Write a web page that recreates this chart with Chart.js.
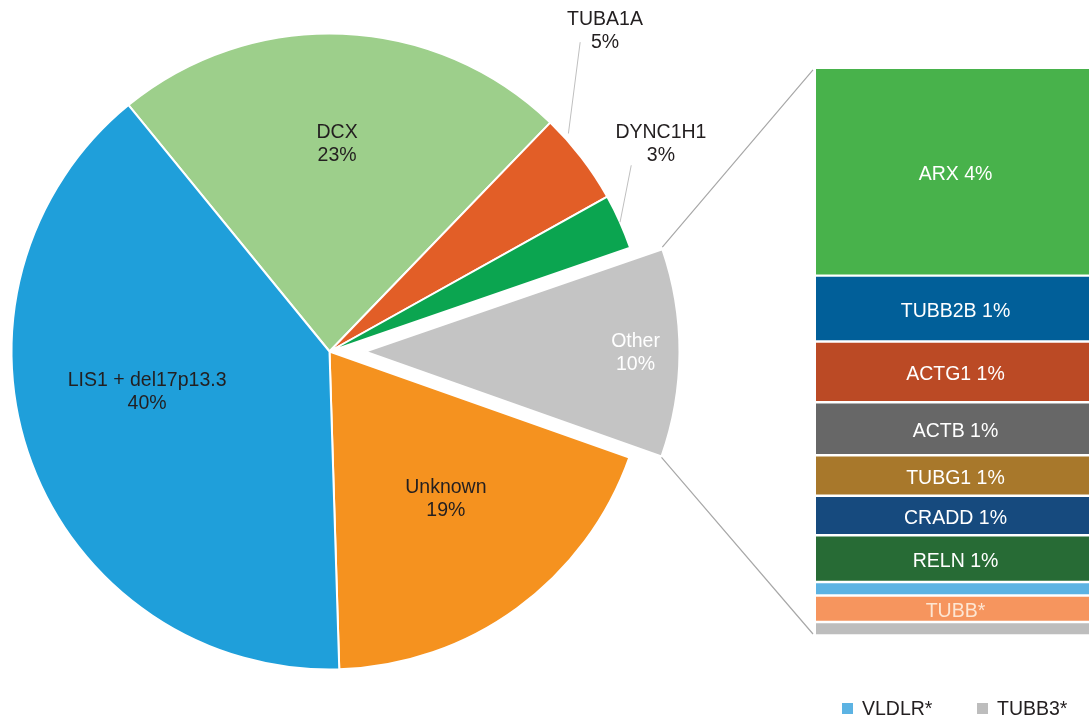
<!DOCTYPE html>
<html>
<head>
<meta charset="utf-8">
<script src="https://cdn.jsdelivr.net/npm/chart.js@4.4.1/dist/chart.umd.min.js"></script>
<style>
html,body{margin:0;padding:0;background:#ffffff;}
#wrap{position:relative;width:1089px;height:720px;overflow:hidden;background:#ffffff;}
#wrap canvas{position:absolute;left:0;top:0;}
</style>
</head>
<body>
<div id="wrap">
  <canvas id="pie" width="1089" height="720"></canvas>
  <canvas id="bar" width="1089" height="720"></canvas>
</div>
<script>
// ---------- data ----------
const pieCategories = ['DCX', 'TUBA1A', 'DYNC1H1', 'Other', 'Unknown', 'LIS1 + del17p13.3'];
const pieValues = [23.1, 4.7, 2.8, 10.7, 19.1, 39.6];
const pieLabelText = ['23%', '5%', '3%', '10%', '19%', '40%'];

const barCategories = ['ARX', 'TUBB2B', 'ACTG1', 'ACTB', 'TUBG1', 'CRADD', 'RELN', 'VLDLR*', 'TUBB*', 'TUBB3*'];
const barValues = [4, 1.27, 1.17, 1.02, 0.78, 0.76, 0.90, 0.26, 0.51, 0.26];
const barLabelText = ['ARX 4%', 'TUBB2B 1%', 'ACTG1 1%', 'ACTB 1%', 'TUBG1 1%', 'CRADD 1%', 'RELN 1%', '', 'TUBB*', ''];

const legendCategories = ['VLDLR*', 'TUBB3*'];

// ---------- styles ----------
const pieColors = ['#9dcf8b', '#e25e27', '#0ba550', '#c4c4c4', '#f5921f', '#1f9fda'];
const barColors = ['#48b24b', '#015f99', '#bb4a25', '#676767', '#a8782b', '#164a7e', '#276b35', '#5cb3e3', '#f6955e', '#bdbdbd'];
const barTextColors = ['#fff', '#fff', '#fff', '#fff', '#fff', '#fff', '#fff', '#fff', '#fde6d3', '#fff'];
const FONT = '19.5px "Liberation Sans", Arial, Helvetica, sans-serif';
const TEXT_DARK = '#231f20';
const explodeIndex = 3;
const explodeDist = 36;
// label placement relative to each slice: radius fraction, angle nudge (deg)
const pieLabelStyle = [
  {inside: true, r: 0.654, d: -0.3, color: TEXT_DARK},
  {inside: false, text: [1.328, -11.7], line: [[1.017, -4.8], [1.252, -13.4]], color: TEXT_DARK},
  {inside: false, text: [1.230, -8.0], line: [[1.0, 0.1], [1.115, -7.6]], color: TEXT_DARK},
  {inside: true, r: 0.86, d: 0, color: '#ffffff'},
  {inside: true, r: 0.59, d: -2.2, color: TEXT_DARK},
  {inside: true, r: 0.588, d: 7.8, color: TEXT_DARK}
];

// ---------- pie ----------
const explodePlugin = {
  id: 'explode',
  afterDatasetsUpdate(chart) {
    const arc = chart.getDatasetMeta(0).data[explodeIndex];
    const mid = (arc.startAngle + arc.endAngle) / 2;
    arc.x += Math.cos(mid) * explodeDist;
    arc.y += Math.sin(mid) * explodeDist;
    arc.outerRadius -= 4;
  }
};

const pieLabelPlugin = {
  id: 'pieLabels',
  afterDatasetsDraw(chart) {
    const ctx = chart.ctx;
    const meta = chart.getDatasetMeta(0);
    meta.data.forEach((arc, i) => {
      const st = pieLabelStyle[i];
      const {x, y, startAngle, endAngle, outerRadius} = arc;
      const mid = (startAngle + endAngle) / 2;
      const pt = (rf, d) => {
        const a = mid + d * Math.PI / 180;
        return [x + outerRadius * rf * Math.cos(a), y + outerRadius * rf * Math.sin(a)];
      };
      ctx.save();
      ctx.font = FONT;
      ctx.textAlign = 'center';
      ctx.textBaseline = 'middle';
      ctx.fillStyle = st.color;
      let c;
      if (st.inside) {
        c = pt(st.r, st.d);
      } else {
        c = pt(st.text[0], st.text[1]);
        const p1 = pt(st.line[0][0], st.line[0][1]);
        const p2 = pt(st.line[1][0], st.line[1][1]);
        ctx.strokeStyle = '#bfbfbf';
        ctx.lineWidth = 1;
        ctx.beginPath();
        ctx.moveTo(p1[0], p1[1]);
        ctx.lineTo(p2[0], p2[1]);
        ctx.stroke();
      }
      ctx.fillText(pieCategories[i], c[0], c[1] - 11.5);
      ctx.fillText(pieLabelText[i], c[0], c[1] + 11.5);
      ctx.restore();
    });
  }
};

const pieChart = new Chart(document.getElementById('pie'), {
  type: 'pie',
  data: {
    labels: pieCategories,
    datasets: [{
      data: pieValues,
      backgroundColor: pieColors,
      borderColor: '#ffffff',
      borderWidth: 2
    }]
  },
  options: {
    responsive: false,
    animation: false,
    events: [],
    rotation: -39.2,
    radius: 318,
    layout: {padding: {left: 0, top: 0, right: 430, bottom: 17}},
    plugins: {legend: {display: false}, tooltip: {enabled: false}}
  },
  plugins: [explodePlugin, pieLabelPlugin]
});

// ---------- stacked bar ----------
const barTotal = barValues.reduce((a, b) => a + b, 0);

const barExtrasPlugin = {
  id: 'barExtras',
  afterDatasetsDraw(chart) {
    const ctx = chart.ctx;
    ctx.save();
    ctx.font = FONT;
    ctx.textAlign = 'center';
    ctx.textBaseline = 'middle';
    barCategories.forEach((c, i) => {
      const bar = chart.getDatasetMeta(i).data[0];
      const {x, y, base} = bar.getProps(['x', 'y', 'base'], true);
      if (!barLabelText[i]) return;
      ctx.fillStyle = barTextColors[i];
      ctx.fillText(barLabelText[i], x + 3, (y + base) / 2 + 3);
    });
    ctx.restore();

    // connector lines from exploded slice to the bar
    const arc = pieChart.getDatasetMeta(0).data[explodeIndex];
    const first = chart.getDatasetMeta(0).data[0].getProps(['x', 'y', 'base', 'width'], true);
    const last = chart.getDatasetMeta(barCategories.length - 1).data[0].getProps(['x', 'y', 'base', 'width'], true);
    const left = first.x - first.width / 2 - 3;
    const topY = Math.min(first.y, first.base) + 2;
    const botY = Math.max(last.y, last.base) - 1.5;
    const sx = arc.x + arc.outerRadius * Math.cos(arc.startAngle);
    const sy = arc.y + arc.outerRadius * Math.sin(arc.startAngle);
    const ex = arc.x + arc.outerRadius * Math.cos(arc.endAngle);
    const ey = arc.y + arc.outerRadius * Math.sin(arc.endAngle);
    ctx.save();
    ctx.strokeStyle = '#a8a8a8';
    ctx.lineWidth = 1.2;
    ctx.beginPath();
    ctx.moveTo(sx, sy - 2);
    ctx.lineTo(left, topY);
    ctx.moveTo(ex, ey + 1);
    ctx.lineTo(left, botY);
    ctx.stroke();
    ctx.restore();

    // legend for the tiny segments
    ctx.save();
    ctx.font = FONT;
    ctx.textBaseline = 'middle';
    ctx.textAlign = 'left';
    const legendX = [842, 977];
    legendCategories.forEach((name, k) => {
      const idx = barCategories.indexOf(name);
      ctx.fillStyle = barColors[idx];
      ctx.fillRect(legendX[k], 703, 11, 11);
      ctx.fillStyle = TEXT_DARK;
      ctx.fillText(name, legendX[k] + 20, 710);
    });
    ctx.restore();
  }
};

new Chart(document.getElementById('bar'), {
  type: 'bar',
  data: {
    labels: ['Other'],
    datasets: barCategories.map((c, i) => ({
      label: c,
      data: [barValues[i]],
      backgroundColor: barColors[i],
      borderColor: '#ffffff',
      borderWidth: {top: 1.5, bottom: 1.5, left: 0, right: 0},
      borderSkipped: false,
      barPercentage: 1,
      categoryPercentage: 1
    }))
  },
  options: {
    responsive: false,
    animation: false,
    events: [],
    layout: {padding: {left: 816, right: 0, top: 67.8, bottom: 84.5}},
    scales: {
      x: {display: false, stacked: true},
      y: {display: false, stacked: true, reverse: true, min: 0, max: barTotal}
    },
    plugins: {legend: {display: false}, tooltip: {enabled: false}}
  },
  plugins: [barExtrasPlugin]
});
</script>
</body>
</html>
